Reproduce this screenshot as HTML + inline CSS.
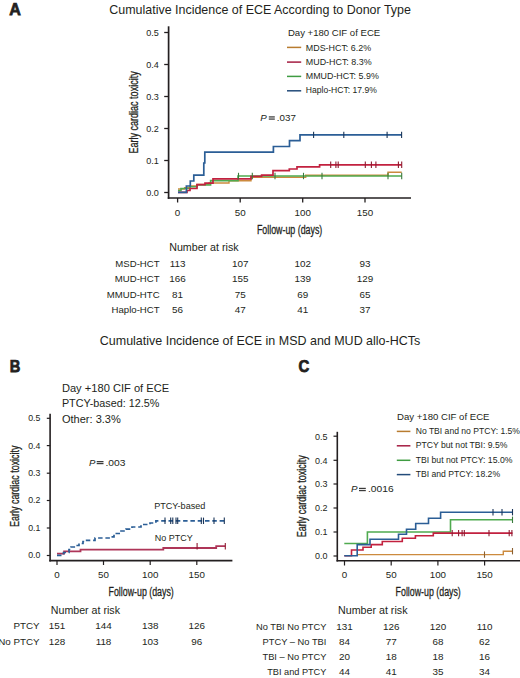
<!DOCTYPE html>
<html><head><meta charset="utf-8"><style>
html,body{margin:0;padding:0;background:#fff;}
body{width:520px;height:678px;overflow:hidden;}
svg{display:block;font-family:"Liberation Sans", sans-serif;}
</style></head><body>
<svg width="520" height="678" viewBox="0 0 520 678" fill="#231F20">
<text x="9.2" y="14.8" font-size="16" textLength="11.6" lengthAdjust="spacingAndGlyphs" font-weight="bold" stroke="#231F20" stroke-width="0.75">A</text>
<text x="109.3" y="13.9" font-size="13.2" textLength="301.6" lengthAdjust="spacingAndGlyphs">Cumulative Incidence of ECE According to Donor Type</text>
<line x1="168.6" y1="26.3" x2="168.6" y2="198.85" stroke="#231F20" stroke-width="1.7"/>
<line x1="167.75" y1="198.0" x2="411" y2="198.0" stroke="#231F20" stroke-width="1.7"/>
<line x1="164.2" y1="192.5" x2="168.6" y2="192.5" stroke="#231F20" stroke-width="1.3"/>
<text x="158.8" y="195.95" font-size="9.7" text-anchor="end" textLength="12.6" lengthAdjust="spacingAndGlyphs">0.0</text>
<line x1="164.2" y1="160.5" x2="168.6" y2="160.5" stroke="#231F20" stroke-width="1.3"/>
<text x="158.8" y="163.95" font-size="9.7" text-anchor="end" textLength="12.6" lengthAdjust="spacingAndGlyphs">0.1</text>
<line x1="164.2" y1="128.5" x2="168.6" y2="128.5" stroke="#231F20" stroke-width="1.3"/>
<text x="158.8" y="131.95" font-size="9.7" text-anchor="end" textLength="12.6" lengthAdjust="spacingAndGlyphs">0.2</text>
<line x1="164.2" y1="96.5" x2="168.6" y2="96.5" stroke="#231F20" stroke-width="1.3"/>
<text x="158.8" y="99.95" font-size="9.7" text-anchor="end" textLength="12.6" lengthAdjust="spacingAndGlyphs">0.3</text>
<line x1="164.2" y1="64.5" x2="168.6" y2="64.5" stroke="#231F20" stroke-width="1.3"/>
<text x="158.8" y="67.95" font-size="9.7" text-anchor="end" textLength="12.6" lengthAdjust="spacingAndGlyphs">0.4</text>
<line x1="164.2" y1="32.5" x2="168.6" y2="32.5" stroke="#231F20" stroke-width="1.3"/>
<text x="158.8" y="35.95" font-size="9.7" text-anchor="end" textLength="12.6" lengthAdjust="spacingAndGlyphs">0.5</text>
<line x1="177.6" y1="198.0" x2="177.6" y2="202.5" stroke="#231F20" stroke-width="1.3"/>
<text x="177.6" y="215.8" font-size="9.8" text-anchor="middle">0</text>
<line x1="240.2" y1="198.0" x2="240.2" y2="202.5" stroke="#231F20" stroke-width="1.3"/>
<text x="240.2" y="215.8" font-size="9.8" text-anchor="middle">50</text>
<line x1="302.7" y1="198.0" x2="302.7" y2="202.5" stroke="#231F20" stroke-width="1.3"/>
<text x="302.7" y="215.8" font-size="9.8" text-anchor="middle">100</text>
<line x1="365" y1="198.0" x2="365" y2="202.5" stroke="#231F20" stroke-width="1.3"/>
<text x="365" y="215.8" font-size="9.8" text-anchor="middle">150</text>
<text x="256.9" y="233.5" font-size="12" textLength="65.4" lengthAdjust="spacingAndGlyphs" stroke="#231F20" stroke-width="0.28">Follow-up (days)</text>
<text x="0" y="0" font-size="12" textLength="82.3" lengthAdjust="spacingAndGlyphs" stroke="#231F20" stroke-width="0.28" transform="translate(138.2,153.6) rotate(-90)">Early cardiac toxicity</text>
<text x="260.2" y="120.8" font-size="9.8" font-style="italic">P</text>
<rect x="268.8" y="116.3" width="6.0" height="1.25" fill="#3a3a3a"/><rect x="268.8" y="118.45" width="6.0" height="1.25" fill="#3a3a3a"/>
<text x="276.8" y="120.8" font-size="9.8">.037</text>
<text x="287.9" y="36.4" font-size="9.7" textLength="92.3" lengthAdjust="spacingAndGlyphs">Day +180 CIF of ECE</text>
<line x1="287" y1="47.4" x2="301.2" y2="47.4" stroke="#B87C30" stroke-width="1.5"/>
<text x="305.8" y="50.6" font-size="8.9" textLength="65.3" lengthAdjust="spacingAndGlyphs">MDS-HCT: 6.2%</text>
<line x1="287" y1="62.1" x2="301.2" y2="62.1" stroke="#A51D42" stroke-width="1.5"/>
<text x="305.8" y="65.0" font-size="8.9" textLength="65.8" lengthAdjust="spacingAndGlyphs">MUD-HCT: 8.3%</text>
<line x1="287" y1="76.4" x2="301.2" y2="76.4" stroke="#3F9C42" stroke-width="1.5"/>
<text x="305.8" y="79.0" font-size="8.9" textLength="73.0" lengthAdjust="spacingAndGlyphs">MMUD-HCT: 5.9%</text>
<line x1="287" y1="90.8" x2="301.2" y2="90.8" stroke="#234B7A" stroke-width="1.5"/>
<text x="305.8" y="93.2" font-size="8.9" textLength="71.0" lengthAdjust="spacingAndGlyphs">Haplo-HCT: 17.9%</text>
<path d="M178,189 H184.6 V187.8 H190 V186 H197 V184.4 H209 V183 H229 V180.8 H251 V177.3 H305.7 V175.2 H388 V172.2 H401.7" fill="none" stroke="#CC8A3E" stroke-width="1.4"/>
<path d="M178,190.5 H181 V188.5 H190 V186.8 H197 V185 H210.6 V180.6 H238 V176 H401.7" fill="none" stroke="#4FAA4F" stroke-width="1.6"/>
<path d="M178,192.3 H187 V190.5 H190 V188.5 H197 V184.6 H205 V183.2 H213 V178.8 H251 V176.4 H261.6 V175.2 H273 V170.7 H289.3 V169 H297 V166.9 H319.6 V164.8 H401.7" fill="none" stroke="#C2213F" stroke-width="1.7"/>
<path d="M178,192.4 H186.4 V186 H190.3 V181 H193.8 V175.2 H203.8 V163 H204.8 V152.2 H273.4 V146.5 H289.5 V140.7 H300 V134.9 H401.7" fill="none" stroke="#2B5E96" stroke-width="1.7"/>
<line x1="330.7" y1="161.5" x2="330.7" y2="167.89999999999998" stroke="#8E1A30" stroke-width="1.1"/>
<line x1="335.9" y1="161.5" x2="335.9" y2="167.89999999999998" stroke="#8E1A30" stroke-width="1.1"/>
<line x1="338.2" y1="161.5" x2="338.2" y2="167.89999999999998" stroke="#8E1A30" stroke-width="1.1"/>
<line x1="365.3" y1="161.5" x2="365.3" y2="167.89999999999998" stroke="#8E1A30" stroke-width="1.1"/>
<line x1="371.4" y1="161.5" x2="371.4" y2="167.89999999999998" stroke="#8E1A30" stroke-width="1.1"/>
<line x1="375.9" y1="161.5" x2="375.9" y2="167.89999999999998" stroke="#8E1A30" stroke-width="1.1"/>
<line x1="398.4" y1="161.5" x2="398.4" y2="167.89999999999998" stroke="#8E1A30" stroke-width="1.1"/>
<line x1="401.7" y1="161.5" x2="401.7" y2="167.89999999999998" stroke="#8E1A30" stroke-width="1.1"/>
<line x1="238.5" y1="172.8" x2="238.5" y2="179.2" stroke="#3A7A3C" stroke-width="1.1"/>
<line x1="252.3" y1="172.8" x2="252.3" y2="179.2" stroke="#3A7A3C" stroke-width="1.1"/>
<line x1="275" y1="172.8" x2="275" y2="179.2" stroke="#3A7A3C" stroke-width="1.1"/>
<line x1="303.5" y1="172.8" x2="303.5" y2="179.2" stroke="#3A7A3C" stroke-width="1.1"/>
<line x1="322" y1="172.8" x2="322" y2="179.2" stroke="#3A7A3C" stroke-width="1.1"/>
<line x1="388" y1="172.8" x2="388" y2="179.2" stroke="#3A7A3C" stroke-width="1.1"/>
<line x1="401.7" y1="172.8" x2="401.7" y2="179.2" stroke="#3A7A3C" stroke-width="1.1"/>
<line x1="313.6" y1="131.70000000000002" x2="313.6" y2="138.1" stroke="#1A3558" stroke-width="1.1"/>
<line x1="343.8" y1="131.70000000000002" x2="343.8" y2="138.1" stroke="#1A3558" stroke-width="1.1"/>
<line x1="387.1" y1="131.70000000000002" x2="387.1" y2="138.1" stroke="#1A3558" stroke-width="1.1"/>
<line x1="401.6" y1="131.70000000000002" x2="401.6" y2="138.1" stroke="#1A3558" stroke-width="1.1"/>
<text x="169.2" y="251.4" font-size="10.4" textLength="69.4" lengthAdjust="spacingAndGlyphs">Number at risk</text>
<text x="159.6" y="267.3" font-size="9.6" text-anchor="end">MSD-HCT</text>
<text x="177.6" y="267.3" font-size="9.9" text-anchor="middle">113</text>
<text x="240.2" y="267.3" font-size="9.9" text-anchor="middle">107</text>
<text x="302.7" y="267.3" font-size="9.9" text-anchor="middle">102</text>
<text x="365" y="267.3" font-size="9.9" text-anchor="middle">93</text>
<text x="159.6" y="282.40000000000003" font-size="9.6" text-anchor="end">MUD-HCT</text>
<text x="177.6" y="282.40000000000003" font-size="9.9" text-anchor="middle">166</text>
<text x="240.2" y="282.40000000000003" font-size="9.9" text-anchor="middle">155</text>
<text x="302.7" y="282.40000000000003" font-size="9.9" text-anchor="middle">139</text>
<text x="365" y="282.40000000000003" font-size="9.9" text-anchor="middle">129</text>
<text x="159.6" y="297.5" font-size="9.6" text-anchor="end">MMUD-HTC</text>
<text x="177.6" y="297.5" font-size="9.9" text-anchor="middle">81</text>
<text x="240.2" y="297.5" font-size="9.9" text-anchor="middle">75</text>
<text x="302.7" y="297.5" font-size="9.9" text-anchor="middle">69</text>
<text x="365" y="297.5" font-size="9.9" text-anchor="middle">65</text>
<text x="159.6" y="312.6" font-size="9.6" text-anchor="end">Haplo-HCT</text>
<text x="177.6" y="312.6" font-size="9.9" text-anchor="middle">56</text>
<text x="240.2" y="312.6" font-size="9.9" text-anchor="middle">47</text>
<text x="302.7" y="312.6" font-size="9.9" text-anchor="middle">41</text>
<text x="365" y="312.6" font-size="9.9" text-anchor="middle">37</text>
<text x="99.8" y="344.7" font-size="13.2" textLength="320.4" lengthAdjust="spacingAndGlyphs">Cumulative Incidence of ECE in MSD and MUD allo-HCTs</text>
<text x="9.8" y="372" font-size="16" textLength="10.6" lengthAdjust="spacingAndGlyphs" font-weight="bold" stroke="#231F20" stroke-width="0.75">B</text>
<line x1="50.1" y1="413.8" x2="50.1" y2="561.4" stroke="#231F20" stroke-width="1.6"/>
<line x1="49.300000000000004" y1="560.6" x2="232.4" y2="560.6" stroke="#231F20" stroke-width="1.6"/>
<line x1="46.8" y1="555.5" x2="50.1" y2="555.5" stroke="#231F20" stroke-width="1.2"/>
<text x="40.4" y="558.4" font-size="8.2" text-anchor="end" textLength="12.2" lengthAdjust="spacingAndGlyphs">0.0</text>
<line x1="46.8" y1="528" x2="50.1" y2="528" stroke="#231F20" stroke-width="1.2"/>
<text x="40.4" y="530.9" font-size="8.2" text-anchor="end" textLength="12.2" lengthAdjust="spacingAndGlyphs">0.1</text>
<line x1="46.8" y1="500.5" x2="50.1" y2="500.5" stroke="#231F20" stroke-width="1.2"/>
<text x="40.4" y="503.4" font-size="8.2" text-anchor="end" textLength="12.2" lengthAdjust="spacingAndGlyphs">0.2</text>
<line x1="46.8" y1="473.2" x2="50.1" y2="473.2" stroke="#231F20" stroke-width="1.2"/>
<text x="40.4" y="476.09999999999997" font-size="8.2" text-anchor="end" textLength="12.2" lengthAdjust="spacingAndGlyphs">0.3</text>
<line x1="46.8" y1="445.6" x2="50.1" y2="445.6" stroke="#231F20" stroke-width="1.2"/>
<text x="40.4" y="448.5" font-size="8.2" text-anchor="end" textLength="12.2" lengthAdjust="spacingAndGlyphs">0.4</text>
<line x1="46.8" y1="418.3" x2="50.1" y2="418.3" stroke="#231F20" stroke-width="1.2"/>
<text x="40.4" y="421.2" font-size="8.2" text-anchor="end" textLength="12.2" lengthAdjust="spacingAndGlyphs">0.5</text>
<line x1="57" y1="560.6" x2="57" y2="565" stroke="#231F20" stroke-width="1.2"/>
<text x="57" y="578.3" font-size="9.8" text-anchor="middle">0</text>
<line x1="103.5" y1="560.6" x2="103.5" y2="565" stroke="#231F20" stroke-width="1.2"/>
<text x="103.5" y="578.3" font-size="9.8" text-anchor="middle">50</text>
<line x1="150.2" y1="560.6" x2="150.2" y2="565" stroke="#231F20" stroke-width="1.2"/>
<text x="150.2" y="578.3" font-size="9.8" text-anchor="middle">100</text>
<line x1="196.8" y1="560.6" x2="196.8" y2="565" stroke="#231F20" stroke-width="1.2"/>
<text x="196.8" y="578.3" font-size="9.8" text-anchor="middle">150</text>
<text x="108.5" y="596.3" font-size="12" textLength="65.3" lengthAdjust="spacingAndGlyphs" stroke="#231F20" stroke-width="0.28">Follow-up (days)</text>
<text x="0" y="0" font-size="12" textLength="81.4" lengthAdjust="spacingAndGlyphs" stroke="#231F20" stroke-width="0.28" transform="translate(19.2,526.9) rotate(-90)">Early cardiac toxicity</text>
<text x="89" y="465.6" font-size="9.6" font-style="italic">P</text>
<rect x="96.7" y="461.0" width="6.8" height="1.25" fill="#3a3a3a"/><rect x="96.7" y="462.95" width="6.8" height="1.25" fill="#3a3a3a"/>
<text x="105.5" y="465.6" font-size="9.8" textLength="20" lengthAdjust="spacingAndGlyphs">.003</text>
<text x="61.9" y="391.6" font-size="11.2" textLength="107.3" lengthAdjust="spacingAndGlyphs">Day +180 CIF of ECE</text>
<text x="61.9" y="407.4" font-size="11.2" textLength="97.4" lengthAdjust="spacingAndGlyphs">PTCY-based: 12.5%</text>
<text x="61.9" y="423.3" font-size="11.2" textLength="58.9" lengthAdjust="spacingAndGlyphs">Other: 3.3%</text>
<text x="154.2" y="508.6" font-size="9.3" textLength="51.2" lengthAdjust="spacingAndGlyphs">PTCY-based</text>
<text x="154.8" y="541" font-size="9.4" textLength="38" lengthAdjust="spacingAndGlyphs">No PTCY</text>
<path d="M57,553.6 H64.1 V551.3 H80.5 V549.6 H163.3 V548 H216.2 V546.2 H225.3" fill="none" stroke="#AE3558" stroke-width="1.8"/>
<line x1="197.1" y1="543.0" x2="197.1" y2="549.4000000000001" stroke="#8E1A30" stroke-width="1.1"/>
<line x1="225.3" y1="543.0" x2="225.3" y2="549.4000000000001" stroke="#8E1A30" stroke-width="1.1"/>
<path d="M57,555.3 H63.5 V552.5 H69 V549.5 H71 V547 H76 V545.5 H79 V543.5 H83 V541.5 H85 V540.3 H95 V538 H111 V536.8 H114 V533.5 H121 V531 H126 V529.2 H132 V527 H141 V524.5 H150 V523 H155.9 V520.8 H225.3" fill="none" stroke="#2B5E96" stroke-width="1.7" stroke-dasharray="4.5 2.8"/>
<line x1="165" y1="517.5999999999999" x2="165" y2="524.0" stroke="#1A3558" stroke-width="1.1"/>
<line x1="170.7" y1="517.5999999999999" x2="170.7" y2="524.0" stroke="#1A3558" stroke-width="1.1"/>
<line x1="172.8" y1="517.5999999999999" x2="172.8" y2="524.0" stroke="#1A3558" stroke-width="1.1"/>
<line x1="176" y1="517.5999999999999" x2="176" y2="524.0" stroke="#1A3558" stroke-width="1.1"/>
<line x1="177.7" y1="517.5999999999999" x2="177.7" y2="524.0" stroke="#1A3558" stroke-width="1.1"/>
<line x1="201.3" y1="517.5999999999999" x2="201.3" y2="524.0" stroke="#1A3558" stroke-width="1.1"/>
<line x1="203.5" y1="517.5999999999999" x2="203.5" y2="524.0" stroke="#1A3558" stroke-width="1.1"/>
<line x1="214" y1="517.5999999999999" x2="214" y2="524.0" stroke="#1A3558" stroke-width="1.1"/>
<line x1="224.3" y1="517.5999999999999" x2="224.3" y2="524.0" stroke="#1A3558" stroke-width="1.1"/>
<text x="50.8" y="613.8" font-size="10.4" textLength="69.2" lengthAdjust="spacingAndGlyphs">Number at risk</text>
<text x="39.6" y="629.3" font-size="9.8" text-anchor="end">PTCY</text>
<text x="57" y="629.3" font-size="9.9" text-anchor="middle">151</text>
<text x="103.5" y="629.3" font-size="9.9" text-anchor="middle">144</text>
<text x="150.2" y="629.3" font-size="9.9" text-anchor="middle">138</text>
<text x="196.8" y="629.3" font-size="9.9" text-anchor="middle">126</text>
<text x="39.6" y="644.5" font-size="9.8" text-anchor="end">No PTCY</text>
<text x="57" y="644.5" font-size="9.9" text-anchor="middle">128</text>
<text x="103.5" y="644.5" font-size="9.9" text-anchor="middle">118</text>
<text x="150.2" y="644.5" font-size="9.9" text-anchor="middle">103</text>
<text x="196.8" y="644.5" font-size="9.9" text-anchor="middle">96</text>
<text x="298.5" y="371.8" font-size="16" textLength="10.8" lengthAdjust="spacingAndGlyphs" font-weight="bold" stroke="#231F20" stroke-width="0.75">C</text>
<line x1="337.3" y1="431.8" x2="337.3" y2="561.5" stroke="#231F20" stroke-width="1.6"/>
<line x1="336.5" y1="560.7" x2="520" y2="560.7" stroke="#231F20" stroke-width="1.6"/>
<line x1="333.5" y1="556" x2="337.3" y2="556" stroke="#231F20" stroke-width="1.2"/>
<text x="327.6" y="559.3" font-size="9.3" text-anchor="end" textLength="12.5" lengthAdjust="spacingAndGlyphs">0.0</text>
<line x1="333.5" y1="532" x2="337.3" y2="532" stroke="#231F20" stroke-width="1.2"/>
<text x="327.6" y="535.3" font-size="9.3" text-anchor="end" textLength="12.5" lengthAdjust="spacingAndGlyphs">0.1</text>
<line x1="333.5" y1="508" x2="337.3" y2="508" stroke="#231F20" stroke-width="1.2"/>
<text x="327.6" y="511.3" font-size="9.3" text-anchor="end" textLength="12.5" lengthAdjust="spacingAndGlyphs">0.2</text>
<line x1="333.5" y1="484" x2="337.3" y2="484" stroke="#231F20" stroke-width="1.2"/>
<text x="327.6" y="487.3" font-size="9.3" text-anchor="end" textLength="12.5" lengthAdjust="spacingAndGlyphs">0.3</text>
<line x1="333.5" y1="460.3" x2="337.3" y2="460.3" stroke="#231F20" stroke-width="1.2"/>
<text x="327.6" y="463.6" font-size="9.3" text-anchor="end" textLength="12.5" lengthAdjust="spacingAndGlyphs">0.4</text>
<line x1="333.5" y1="436.2" x2="337.3" y2="436.2" stroke="#231F20" stroke-width="1.2"/>
<text x="327.6" y="439.5" font-size="9.3" text-anchor="end" textLength="12.5" lengthAdjust="spacingAndGlyphs">0.5</text>
<line x1="344.5" y1="560.7" x2="344.5" y2="565.5" stroke="#231F20" stroke-width="1.2"/>
<text x="344.5" y="578.3" font-size="9.8" text-anchor="middle">0</text>
<line x1="391.2" y1="560.7" x2="391.2" y2="565.5" stroke="#231F20" stroke-width="1.2"/>
<text x="391.2" y="578.3" font-size="9.8" text-anchor="middle">50</text>
<line x1="437.9" y1="560.7" x2="437.9" y2="565.5" stroke="#231F20" stroke-width="1.2"/>
<text x="437.9" y="578.3" font-size="9.8" text-anchor="middle">100</text>
<line x1="484.6" y1="560.7" x2="484.6" y2="565.5" stroke="#231F20" stroke-width="1.2"/>
<text x="484.6" y="578.3" font-size="9.8" text-anchor="middle">150</text>
<text x="395.6" y="595.5" font-size="12" textLength="65.2" lengthAdjust="spacingAndGlyphs" stroke="#231F20" stroke-width="0.28">Follow-up (days)</text>
<text x="0" y="0" font-size="12" textLength="82" lengthAdjust="spacingAndGlyphs" stroke="#231F20" stroke-width="0.28" transform="translate(306.1,537.2) rotate(-90)">Early cardiac toxicity</text>
<text x="351" y="492.3" font-size="9.8" font-style="italic">P</text>
<rect x="359.0" y="487.8" width="6.8" height="1.25" fill="#3a3a3a"/><rect x="359.0" y="489.95" width="6.8" height="1.25" fill="#3a3a3a"/>
<text x="368" y="492.3" font-size="9.9" textLength="25.6" lengthAdjust="spacingAndGlyphs">.0016</text>
<text x="397" y="419.5" font-size="9.7" textLength="92.5" lengthAdjust="spacingAndGlyphs">Day +180 CIF of ECE</text>
<line x1="396.8" y1="431.4" x2="410.4" y2="431.4" stroke="#B87C30" stroke-width="1.5"/>
<text x="415.7" y="433.8" font-size="8.7" textLength="104.3" lengthAdjust="spacingAndGlyphs">No TBI and no PTCY: 1.5%</text>
<line x1="396.8" y1="445.8" x2="410.4" y2="445.8" stroke="#A51D42" stroke-width="1.5"/>
<text x="415.7" y="448.4" font-size="8.7" textLength="91.8" lengthAdjust="spacingAndGlyphs">PTCY but not TBI: 9.5%</text>
<line x1="396.8" y1="460.3" x2="410.4" y2="460.3" stroke="#3F9C42" stroke-width="1.5"/>
<text x="415.7" y="463.1" font-size="8.7" textLength="96.7" lengthAdjust="spacingAndGlyphs">TBI but not PTCY: 15.0%</text>
<line x1="396.8" y1="474.6" x2="410.4" y2="474.6" stroke="#234B7A" stroke-width="1.5"/>
<text x="415.7" y="477.1" font-size="8.7" textLength="84.4" lengthAdjust="spacingAndGlyphs">TBI and PTCY: 18.2%</text>
<path d="M357,554.6 H503.3 V551.2 H512.5" fill="none" stroke="#CC8A3E" stroke-width="1.4"/>
<path d="M344.3,543.5 H367.4 V532 H450.5 V519.8 H512.5" fill="none" stroke="#4FAA4F" stroke-width="1.6"/>
<path d="M344.3,555.7 H351.5 V550 H363 V547.3 H371.2 V544.6 H382.3 V541.5 H402.3 V538.2 H415.4 V535.8 H433.3 V533.1 H512.5" fill="none" stroke="#C2213F" stroke-width="1.6"/>
<path d="M344.3,555.7 H357.2 V544.6 H370 V539.2 H398.5 V534.3 H406.5 V529.2 H415.7 V523.5 H428.5 V518.3 H440.6 V512.2 H512.5" fill="none" stroke="#2B5E96" stroke-width="1.6"/>
<line x1="484.5" y1="551.4" x2="484.5" y2="557.8000000000001" stroke="#8A6030" stroke-width="1.1"/>
<line x1="512.5" y1="548.0" x2="512.5" y2="554.4000000000001" stroke="#8A6030" stroke-width="1.1"/>
<line x1="452.2" y1="529.9" x2="452.2" y2="536.3000000000001" stroke="#8E1A30" stroke-width="1.1"/>
<line x1="458.6" y1="529.9" x2="458.6" y2="536.3000000000001" stroke="#8E1A30" stroke-width="1.1"/>
<line x1="462.1" y1="529.9" x2="462.1" y2="536.3000000000001" stroke="#8E1A30" stroke-width="1.1"/>
<line x1="464.3" y1="529.9" x2="464.3" y2="536.3000000000001" stroke="#8E1A30" stroke-width="1.1"/>
<line x1="489" y1="529.9" x2="489" y2="536.3000000000001" stroke="#8E1A30" stroke-width="1.1"/>
<line x1="509.2" y1="529.9" x2="509.2" y2="536.3000000000001" stroke="#8E1A30" stroke-width="1.1"/>
<line x1="511.9" y1="529.9" x2="511.9" y2="536.3000000000001" stroke="#8E1A30" stroke-width="1.1"/>
<line x1="512.5" y1="516.5999999999999" x2="512.5" y2="523.0" stroke="#3A7A3C" stroke-width="1.1"/>
<line x1="493" y1="509.00000000000006" x2="493" y2="515.4000000000001" stroke="#1A3558" stroke-width="1.1"/>
<line x1="502" y1="509.00000000000006" x2="502" y2="515.4000000000001" stroke="#1A3558" stroke-width="1.1"/>
<line x1="512.5" y1="509.00000000000006" x2="512.5" y2="515.4000000000001" stroke="#1A3558" stroke-width="1.1"/>
<text x="338" y="613.8" font-size="10.4" textLength="69.5" lengthAdjust="spacingAndGlyphs">Number at risk</text>
<text x="326.4" y="629.8" font-size="9.8" text-anchor="end" textLength="70.4" lengthAdjust="spacingAndGlyphs">No TBI No PTCY</text>
<text x="344.5" y="629.8" font-size="9.9" text-anchor="middle">131</text>
<text x="391.2" y="629.8" font-size="9.9" text-anchor="middle">126</text>
<text x="437.9" y="629.8" font-size="9.9" text-anchor="middle">120</text>
<text x="484.6" y="629.8" font-size="9.9" text-anchor="middle">110</text>
<text x="326.4" y="644.9" font-size="9.8" text-anchor="end" textLength="63.9" lengthAdjust="spacingAndGlyphs">PTCY – No TBI</text>
<text x="344.5" y="644.9" font-size="9.9" text-anchor="middle">84</text>
<text x="391.2" y="644.9" font-size="9.9" text-anchor="middle">77</text>
<text x="437.9" y="644.9" font-size="9.9" text-anchor="middle">68</text>
<text x="484.6" y="644.9" font-size="9.9" text-anchor="middle">62</text>
<text x="326.4" y="660.0" font-size="9.8" text-anchor="end" textLength="63.9" lengthAdjust="spacingAndGlyphs">TBI – No PTCY</text>
<text x="344.5" y="660.0" font-size="9.9" text-anchor="middle">20</text>
<text x="391.2" y="660.0" font-size="9.9" text-anchor="middle">18</text>
<text x="437.9" y="660.0" font-size="9.9" text-anchor="middle">18</text>
<text x="484.6" y="660.0" font-size="9.9" text-anchor="middle">16</text>
<text x="326.4" y="675.0999999999999" font-size="9.8" text-anchor="end" textLength="59.2" lengthAdjust="spacingAndGlyphs">TBI and PTCY</text>
<text x="344.5" y="675.0999999999999" font-size="9.9" text-anchor="middle">44</text>
<text x="391.2" y="675.0999999999999" font-size="9.9" text-anchor="middle">41</text>
<text x="437.9" y="675.0999999999999" font-size="9.9" text-anchor="middle">35</text>
<text x="484.6" y="675.0999999999999" font-size="9.9" text-anchor="middle">34</text>
</svg>
</body></html>
